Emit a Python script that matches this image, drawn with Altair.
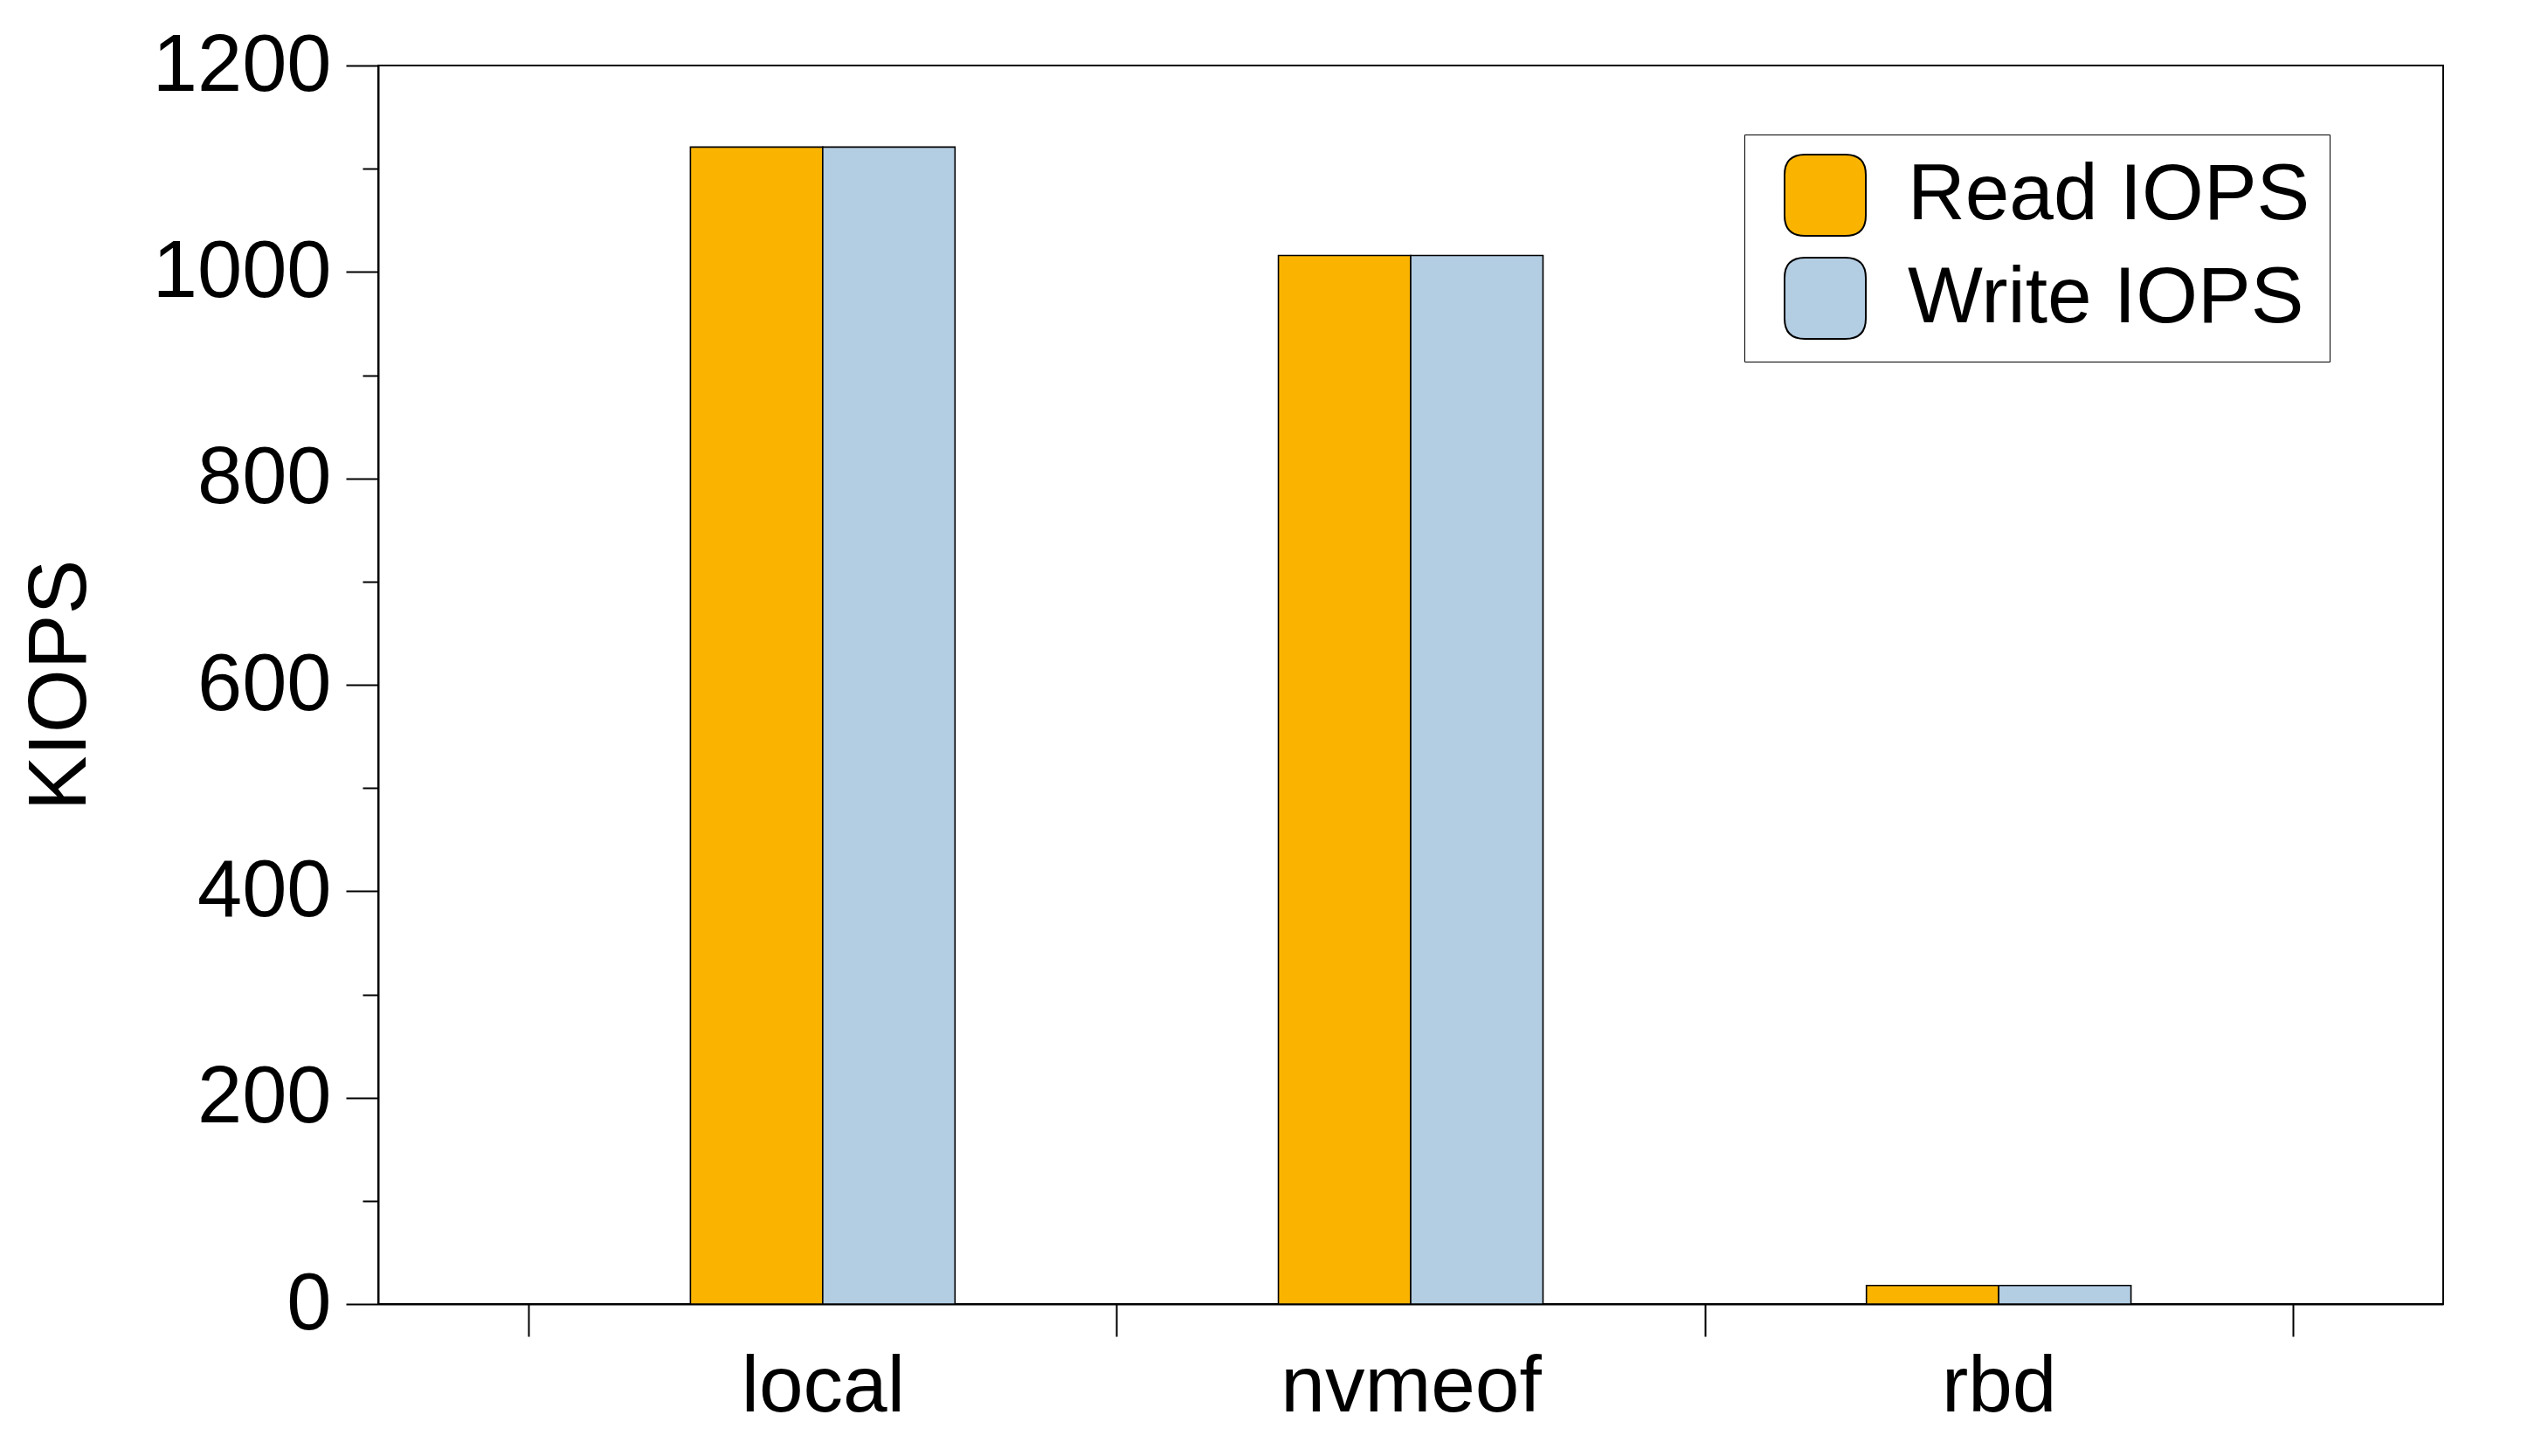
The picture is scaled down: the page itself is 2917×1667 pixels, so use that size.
import altair as alt
import pandas as pd

categories = ["local", "nvmeof", "rbd"]
read_iops = [1121, 1016, 18]
write_iops = [1121, 1016, 18]
series_names = ["Read IOPS", "Write IOPS"]
series_colors = ["#FAB400", "#B3CDE3"]
y_ticks = list(range(0, 1201, 100))

rows = []
for i, c in enumerate(categories):
    rows.append({"category": c, "idx": i, "series": series_names[0], "value": read_iops[i], "side": -1})
    rows.append({"category": c, "idx": i, "series": series_names[1], "value": write_iops[i], "side": 0})
df = pd.DataFrame(rows)

BAR_W = 0.225
FONT = "Liberation Sans"

label_expr = " : ".join(
    [f"datum.value == {i} ? '{c}'" for i, c in enumerate(categories)]
) + " : ''"
x_values = []
for i in range(len(categories)):
    x_values += [i - 0.5, i]
x_values.append(len(categories) - 0.5)

sym_path = ("M -0.5,-1 L 0.5,-1 Q 1,-1 1,-0.5 L 1,0.5 "
            "Q 1,1 0.5,1 L -0.5,1 Q -1,1 -1,0.5 L -1,-0.5 "
            "Q -1,-1 -0.5,-1 Z")

chart = alt.Chart(df).transform_calculate(
    x0=f"datum.idx + datum.side * {BAR_W}",
    x1=f"datum.idx + (datum.side + 1) * {BAR_W}",
).mark_bar(stroke="black", strokeWidth=1.6, orient="vertical").encode(
    x=alt.X("x0:Q",
            scale=alt.Scale(domain=[-0.7485, len(categories) - 0.2515], nice=False, zero=False),
            axis=alt.Axis(values=x_values, labelExpr=label_expr, title=None,
                          labelOverlap=False, labelFlush=False, labelLimit=2000,
                          labelFontSize=91, labelFont=FONT, labelColor="black",
                          labelPadding=13, tickSize=37, tickWidth=2, tickColor="black",
                          tickOpacity={"condition": {"test": "datum.value % 1 == 0", "value": 0}, "value": 1},
                          domainColor="black", domainWidth=2, grid=False)),
    x2="x1:Q",
    y=alt.Y("value:Q",
            scale=alt.Scale(domain=[0, 1200], nice=False),
            axis=alt.Axis(values=y_ticks, title="KIOPS", format="d",
                          labelExpr="datum.value % 200 == 0 ? datum.label : ''",
                          labelFontSize=92, labelFont=FONT, labelColor="black",
                          labelPadding=17, labelOverlap=False, labelFlush=False, labelLimit=2000,
                          tickSize={"condition": {"test": "datum.value % 200 == 0", "value": 37}, "value": 18},
                          tickWidth=2, tickColor="black",
                          domainColor="black", domainWidth=2, grid=False,
                          titleFontSize=94, titleFont=FONT, titleFontWeight="normal",
                          titleColor="black", titleX=-364, titleBaseline="middle")),
    y2=alt.datum(0),
    color=alt.Color("series:N",
                    scale=alt.Scale(domain=series_names, range=series_colors),
                    legend=alt.Legend(title=None, orient="none", legendX=1564, legendY=79,
                                      padding=22, strokeColor="black", fillColor="white",
                                      labelFontSize=91, labelFont=FONT,
                                      labelColor="black", labelOffset=47, labelLimit=2000,
                                      symbolType=sym_path, symbolSize=8649, symbolOffset=23,
                                      symbolStrokeColor="black", symbolStrokeWidth=2,
                                      symbolOpacity=1, rowPadding=17)),
).properties(
    width=2364, height=1418,
    autosize=alt.AutoSizeParams(type="none"),
    padding={"left": 425, "top": 67, "right": 60, "bottom": 160},
).configure_view(stroke="black", strokeWidth=2)

chart.save("out.html", embed_options={"renderer": "svg", "actions": False})
